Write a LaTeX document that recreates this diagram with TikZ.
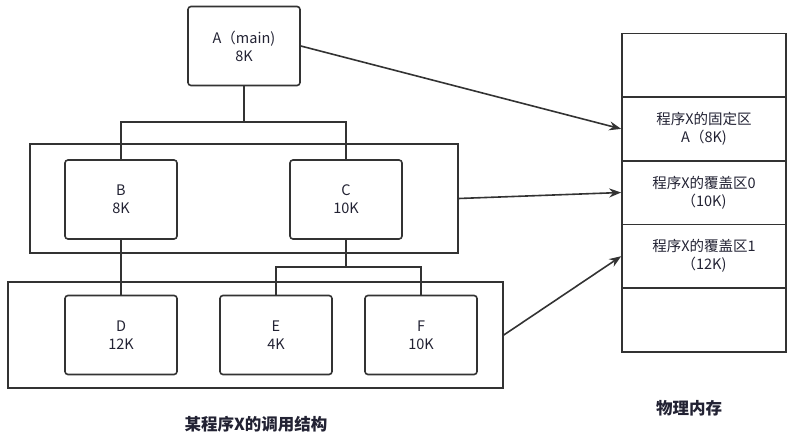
\documentclass[tikz,border=0pt]{standalone}
\usepackage{fontspec}
\setmainfont{Noto Sans CJK SC}
\usetikzlibrary{arrows.meta}
\definecolor{ln}{HTML}{333333}
\definecolor{tx}{HTML}{222233}
\begin{document}
\begin{tikzpicture}[x=1pt,y=-1pt,
  every node/.style={text=tx,font=\fontsize{14.5}{18}\selectfont},
  box/.style={draw=ln,line width=1.6pt,rounded corners=3pt,minimum width=112pt,minimum height=79pt,inner sep=0pt,align=center},
  group/.style={draw=ln,line width=1.6pt,inner sep=0pt},
  cell/.style={draw=ln,line width=1.6pt,minimum width=164pt,minimum height=63.7pt,inner sep=0pt,align=center},
  conn/.style={draw=ln,line width=1.6pt},
  arr/.style={draw=ln,line width=1.6pt,-{Stealth[length=12pt,width=9pt]}},
  title/.style={font=\fontsize{16.5}{19}\selectfont\bfseries}]
\useasboundingbox (0,0) rectangle (797,438);
% groups
\node[group,minimum width=428pt,minimum height=109pt] (g1) at (244,198.5) {};
\node[group,minimum width=495pt,minimum height=106pt] (g2) at (255.5,335) {};
% boxes
\node[box] (A) at (244,46) {A（main)\\8K};
\node[box] (B) at (121,199.5) {B\\8K};
\node[box] (C) at (346,199.5) {C\\10K};
\node[box] (D) at (121,335) {D\\12K};
\node[box] (E) at (276,335) {E\\4K};
\node[box] (F) at (421,335) {F\\10K};
% tree connectors
\draw[conn] (A.south) -- ++(0,36) coordinate (j1);
\draw[conn] (B.north) |- (j1) -| (C.north);
\draw[conn] (B.south) -- (D.north);
\draw[conn] (C.south) -- ++(0,27) coordinate (j2);
\draw[conn] (E.north) |- (j2) -| (F.north);
% memory
\node[cell] (m0) at (704,65.2) {};
\node[cell] (m1) at (704,128.9) {程序X的固定区\\A（8K)};
\node[cell] (m2) at (704,192.5) {程序X的覆盖区0\\（10K)};
\node[cell] (m3) at (704,256.2) {程序X的覆盖区1\\（12K)};
\node[cell] (m4) at (704,319.9) {};
% arrows
\draw[arr] (A.east) -- (m1.west);
\draw[arr] (g1.east) -- (m2.west);
\draw[arr] (g2.east) -- (m3.west);
% titles
\node[title] (t1) at (256,424) {某程序X的调用结构};
\node[title] (t2) at (689,408) {物理内存};
\end{tikzpicture}
\end{document}
